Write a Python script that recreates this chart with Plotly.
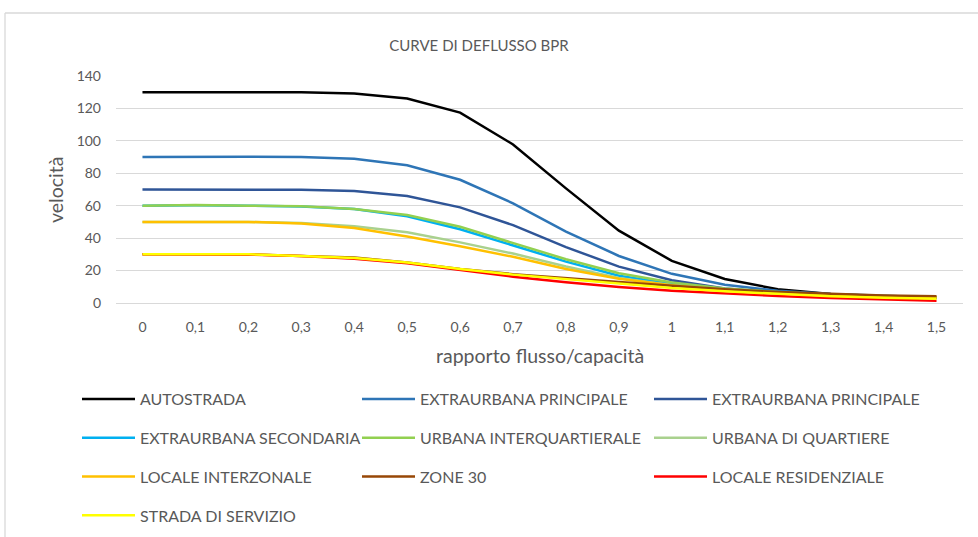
import plotly.graph_objects as go

x_labels = ["0", "0,1", "0,2", "0,3", "0,4", "0,5", "0,6", "0,7", "0,8", "0,9",
            "1", "1,1", "1,2", "1,3", "1,4", "1,5"]

autostrada = [130, 130, 130, 130, 129.2, 126.1, 117.4, 97.8, 70.7, 44.6, 26, 14.8, 8.5, 5.5, 4.2, 3.2]
extra_princ_1 = [90, 90.2, 90.2, 90, 89, 85, 76, 61.5, 44, 29, 18, 11.2, 7.5, 5.5, 4.3, 3.4]
extra_princ_2 = [70, 70, 70, 69.8, 69, 66, 59, 48, 34.5, 22.4, 14, 9, 6.5, 5, 4, 3.4]
extra_second = [60, 60.3, 60, 59.5, 58, 53.5, 45.5, 35.5, 25.5, 16.8, 11.8, 8.3, 6.2, 4.9, 4, 3.4]
urbana_inter = [60, 60.5, 60, 59.7, 58, 54.3, 47, 37, 27, 18.3, 12.7, 9, 6.8, 5.3, 4.3, 3.6]
urbana_quart = [50, 50, 50, 49.3, 47.3, 43.6, 37.4, 30.5, 22.5, 15.5, 11, 8, 6, 4.8, 4, 3.5]
locale_interz = [50, 50, 50, 49, 46.2, 41, 35, 28.5, 21, 15, 11, 8, 6, 4.8, 4, 3.5]
zone_30 = [30, 30, 30, 29, 28, 25, 21, 17.8, 15.2, 13, 10.7, 8.5, 6.8, 5.6, 4.7, 4.1]
locale_resid = [30, 30, 29.8, 29, 27.3, 24.5, 20.5, 16.2, 12.8, 9.9, 7.6, 5.8, 4.3, 3.1, 2.1, 1.4]
strada_serv = [30, 30, 30, 29, 27.8, 25, 21, 17.5, 14.6, 11.9, 9.2, 7.2, 5.5, 4.2, 3.3, 2.6]

series = [
    ("AUTOSTRADA", autostrada, "#000000", "legend"),
    ("EXTRAURBANA PRINCIPALE", extra_princ_1, "#2E75B6", "legend2"),
    ("EXTRAURBANA PRINCIPALE", extra_princ_2, "#2F5597", "legend3"),
    ("EXTRAURBANA SECONDARIA", extra_second, "#00B0F0", "legend"),
    ("URBANA INTERQUARTIERALE", urbana_inter, "#92D050", "legend2"),
    ("URBANA DI QUARTIERE", urbana_quart, "#A9D18E", "legend3"),
    ("LOCALE INTERZONALE", locale_interz, "#FFC000", "legend"),
    ("ZONE 30", zone_30, "#974706", "legend2"),
    ("LOCALE RESIDENZIALE", locale_resid, "#FF0000", "legend3"),
    ("STRADA DI SERVIZIO", strada_serv, "#FFFF00", "legend"),
]

FONT = "Lato, 'Open Sans', sans-serif"
GREY = "#595959"

fig = go.Figure()
for i, (name, vals, col, leg) in enumerate(series):
    fig.add_trace(go.Scatter(
        x=x_labels, y=vals, mode="lines", name=name,
        line=dict(color=col, width=2.5),
        legend=leg, legendgroup=f"g{i}",
    ))

W, H = 978, 537
L, R, T, B = 116, 15, 76, 234
pw, ph = W - L - R, H - T - B

def px_x(px):
    return (px - L) / pw

def px_y(py):
    return (H - B - py) / ph

def cx(px):
    return px / W

def cy(py):
    return 1 - py / H

leg_common = dict(
    orientation="v", xanchor="left", yanchor="top",
    xref="container", yref="container",
    font=dict(family=FONT, size=16, color=GREY),
    bgcolor="rgba(0,0,0,0)", tracegroupgap=15, itemwidth=53,
)

fig.update_layout(
    width=W, height=H,
    margin=dict(l=L, r=R, t=T, b=B, autoexpand=False),
    paper_bgcolor="white", plot_bgcolor="white",
    font=dict(family=FONT, color=GREY),
    title=dict(text="CURVE DI DEFLUSSO BPR", x=cx(479), xref="container", xanchor="center",
               y=cy(46), yref="container", yanchor="middle",
               font=dict(family=FONT, size=15, color=GREY)),
    xaxis=dict(
        type="category", range=[-0.5, 15.5],
        showgrid=False, showline=False, zeroline=False, ticks="",
        tickfont=dict(family=FONT, size=14, color=GREY),
        ticklabelstandoff=14,
    ),
    yaxis=dict(
        range=[0, 140], tickvals=[0, 20, 40, 60, 80, 100, 120, 140],
        showgrid=True, gridcolor="#D9D9D9", gridwidth=1,
        zeroline=True, zerolinecolor="#D9D9D9", zerolinewidth=1,
        showline=False, ticks="",
        tickfont=dict(family=FONT, size=14, color=GREY),
        ticklabelstandoff=14,
    ),
    legend=dict(x=cx(77), y=cy(382), **leg_common),
    legend2=dict(x=cx(357), y=cy(382), **leg_common),
    legend3=dict(x=cx(649), y=cy(382), **leg_common),
    annotations=[
        dict(text="rapporto flusso/capacità", xref="paper", yref="paper",
             x=0.5, y=px_y(355), xanchor="center", yanchor="middle",
             showarrow=False, font=dict(family=FONT, size=19.5, color=GREY)),
        dict(text="velocità", xref="paper", yref="paper",
             x=px_x(55), y=px_y(190), xanchor="center", yanchor="middle",
             textangle=-90, showarrow=False,
             font=dict(family=FONT, size=19.5, color=GREY)),
    ],
    shapes=[
        dict(type="line", xref="paper", yref="paper",
             x0=px_x(5), x1=px_x(5), y0=px_y(13), y1=px_y(560),
             line=dict(color="#D9D9D9", width=1.3)),
        dict(type="line", xref="paper", yref="paper",
             x0=px_x(5), x1=px_x(1000), y0=px_y(13), y1=px_y(13),
             line=dict(color="#D9D9D9", width=1.3)),
    ],
)

fig.write_html(
    "out.html",
    config={"displayModeBar": False},
    post_script="document.body.style.margin='0px';document.body.style.padding='0px';",
)
